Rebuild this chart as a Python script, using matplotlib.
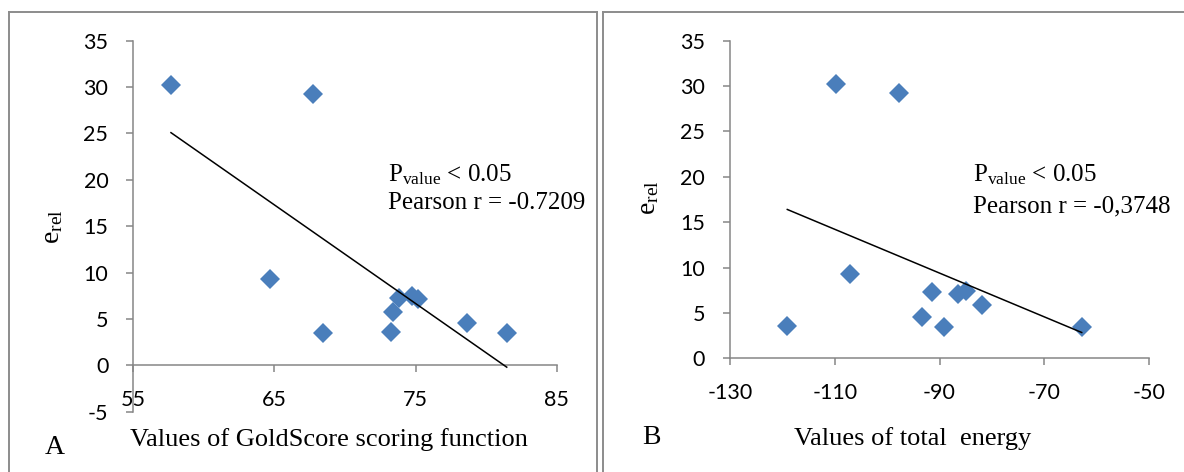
import numpy as np
import matplotlib
matplotlib.use("Agg")
import matplotlib.pyplot as plt
from matplotlib.lines import Line2D

# panel A: GoldScore vs relative error
gold_score = [57.67, 67.71, 64.69, 68.42, 73.26, 73.43, 73.85, 74.73, 75.2, 78.63, 81.46]
e_rel_a = [30.2, 29.2, 9.3, 3.45, 3.6, 5.8, 7.3, 7.5, 7.15, 4.52, 3.52]

# panel B: total energy vs relative error
total_energy = [-119.06, -109.8, -97.67, -107.09, -93.4, -91.4, -89.14, -86.4, -84.93, -81.93, -62.85]
e_rel_b = [3.56, 30.26, 29.23, 9.29, 4.52, 7.34, 3.48, 7.09, 7.42, 5.84, 3.41]

xticks_a = [55, 65, 75, 85]
yticks_a = [-5, 0, 5, 10, 15, 20, 25, 30, 35]
xticks_b = [-130, -110, -90, -70, -50]
yticks_b = [0, 5, 10, 15, 20, 25, 30, 35]

pearson_a = "-0.7209"
pearson_b = "-0,3748"

plt.rcParams['mathtext.fontset'] = 'custom'
plt.rcParams['mathtext.rm'] = 'Liberation Serif'
plt.rcParams['mathtext.it'] = 'Liberation Serif:italic'
plt.rcParams['axes.unicode_minus'] = False

W, H = 1184, 472
fig = plt.figure(figsize=(W / 100, H / 100), dpi=100)

AXIS_GREY = '#868686'
BLUE = '#4a7ebb'
SERIF = 'Liberation Serif'
TICKFONT = 'Lato'


def px_rect(x0, y0, x1, y1):
    # pixel box (top-left origin) -> figure fraction rect
    return [x0 / W, 1 - y1 / H, (x1 - x0) / W, (y1 - y0) / H]


def style_axes(ax, xticks, yticks):
    for side in ['top', 'right']:
        ax.spines[side].set_visible(False)
    for side in ['left', 'bottom']:
        ax.spines[side].set_color(AXIS_GREY)
        ax.spines[side].set_linewidth(1.1)
    ax.spines['bottom'].set_position(('data', 0))
    ax.set_xticks(xticks)
    ax.set_yticks(yticks)
    ax.tick_params(axis='both', colors=AXIS_GREY, length=5, width=1.1,
                   labelcolor='black', labelsize=15.5)
    ax.tick_params(axis='x', pad=13)
    ax.tick_params(axis='y', pad=13)
    for lab in ax.get_xticklabels() + ax.get_yticklabels():
        lab.set_fontfamily(TICKFONT)
    ax.set_facecolor('none')


def scatter_with_trend(ax, x, y):
    x = np.array(x)
    y = np.array(y)
    ax.plot(x, y, linestyle='none', marker='D', markersize=10,
            markerfacecolor=BLUE, markeredgewidth=0, zorder=3)
    k, b = np.polyfit(x, y, 1)
    xs = np.array([x.min(), x.max()])
    ax.plot(xs, k * xs + b, color='black', linewidth=1.1, zorder=4)


# panel borders
border_kw = dict(color='#8c8c8c', linewidth=1.4, transform=fig.transFigure)
def fig_line(x0, y0, x1, y1):
    fig.add_artist(Line2D([x0 / W, x1 / W], [1 - y0 / H, 1 - y1 / H], **border_kw))

fig_line(9, 12, 9, H + 5)
fig_line(9, 12, 597, 12)
fig_line(597, 12, 597, H + 5)
fig_line(603, 12, 603, H + 5)
fig_line(603, 12, W + 5, 12)

# ---- panel A ----
ax1 = fig.add_axes(px_rect(133.3, 40.7, 556.7, 411.7))
scatter_with_trend(ax1, gold_score, e_rel_a)
ax1.set_xlim(55, 85)
ax1.set_ylim(-5, 35)
style_axes(ax1, xticks_a, yticks_a)
ax1.set_ylabel(r'$\mathrm{e_{rel}}$', fontsize=20)
ax1.yaxis.set_label_coords(-0.161, 0.498)

fig.text(388 / W, 1 - 175 / H, r'$\mathrm{P_{value}}$ < 0.05', family=SERIF,
         fontsize=18, ha='left', va='center')
fig.text(388 / W, 1 - 203 / H, 'Pearson r = ' + pearson_a, family=SERIF,
         fontsize=18, ha='left', va='center')
fig.text(329 / W, 1 - 440 / H, 'Values of GoldScore scoring function',
         family=SERIF, fontsize=19, ha='center', va='center')
fig.text(55 / W, 1 - 447 / H, 'A', family=SERIF, fontsize=20,
         ha='center', va='center')

# ---- panel B ----
ax2 = fig.add_axes(px_rect(730, 40.7, 1149, 358.3))
scatter_with_trend(ax2, total_energy, e_rel_b)
ax2.set_xlim(-130, -50)
ax2.set_ylim(0, 35)
style_axes(ax2, xticks_b, yticks_b)
ax2.set_ylabel(r'$\mathrm{e_{rel}}$', fontsize=20)
ax2.yaxis.set_label_coords(-0.165, 0.505)

fig.text(973 / W, 1 - 175 / H, r'$\mathrm{P_{value}}$ < 0.05', family=SERIF,
         fontsize=18, ha='left', va='center')
fig.text(973 / W, 1 - 206 / H, 'Pearson r = ' + pearson_b, family=SERIF,
         fontsize=18, ha='left', va='center')
fig.text(913 / W, 1 - 439 / H, 'Values of total  energy',
         family=SERIF, fontsize=19, ha='center', va='center')
fig.text(651 / W, 1 - 437 / H, 'B', family=SERIF, fontsize=20,
         ha='center', va='center')

fig.savefig('out.png', dpi=100)
plt.close(fig)
